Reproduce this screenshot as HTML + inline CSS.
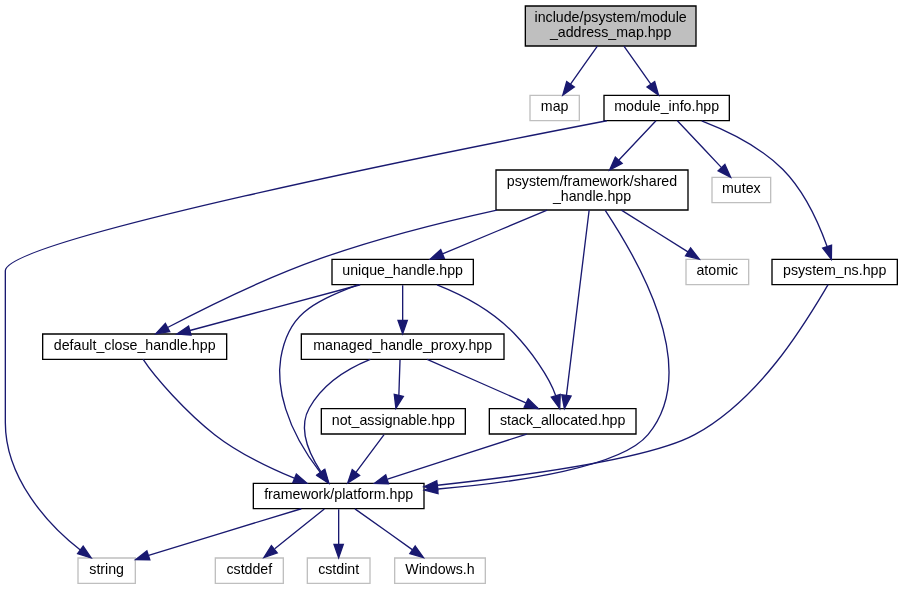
<!DOCTYPE html>
<html><head><meta charset="utf-8"><style>
html,body{margin:0;padding:0;background:#fff;width:902px;height:589px;overflow:hidden}
svg{display:block;will-change:transform}
text{font-family:"Liberation Sans",sans-serif;font-size:10.65px;text-anchor:middle;fill:#000}
</style></head><body>
<svg width="902" height="589" viewBox="0 0 676.5 441.75">
<g transform="translate(4 438)">
<g stroke-width="1">
<polygon fill="#bfbfbf" stroke="#000000" points="390,-403.5 390,-433.5 518,-433.5 518,-403.5"/>
<polygon fill="#ffffff" stroke="#bfbfbf" points="393.5,-347.5 393.5,-366.5 430.5,-366.5 430.5,-347.5"/>
<polygon fill="#ffffff" stroke="#000000" points="449,-347.5 449,-366.5 543,-366.5 543,-347.5"/>
<polygon fill="#ffffff" stroke="#bfbfbf" points="54.5,-0.5 54.5,-19.5 97.5,-19.5 97.5,-0.5"/>
<polygon fill="#ffffff" stroke="#000000" points="575,-224.5 575,-243.5 669,-243.5 669,-224.5"/>
<polygon fill="#ffffff" stroke="#bfbfbf" points="530,-286 530,-305 574,-305 574,-286"/>
<polygon fill="#ffffff" stroke="#000000" points="368,-280.5 368,-310.5 512,-310.5 512,-280.5"/>
<polygon fill="#ffffff" stroke="#000000" points="186,-56.5 186,-75.5 314,-75.5 314,-56.5"/>
<polygon fill="#ffffff" stroke="#bfbfbf" points="292,-0.5 292,-19.5 360,-19.5 360,-0.5"/>
<polygon fill="#ffffff" stroke="#bfbfbf" points="157.5,-0.5 157.5,-19.5 208.5,-19.5 208.5,-0.5"/>
<polygon fill="#ffffff" stroke="#bfbfbf" points="226.5,-0.5 226.5,-19.5 273.5,-19.5 273.5,-0.5"/>
<polygon fill="#ffffff" stroke="#bfbfbf" points="510.5,-224.5 510.5,-243.5 557.5,-243.5 557.5,-224.5"/>
<polygon fill="#ffffff" stroke="#000000" points="28,-168.5 28,-187.5 166,-187.5 166,-168.5"/>
<polygon fill="#ffffff" stroke="#000000" points="363,-112.5 363,-131.5 473,-131.5 473,-112.5"/>
<polygon fill="#ffffff" stroke="#000000" points="245,-224.5 245,-243.5 351,-243.5 351,-224.5"/>
<polygon fill="#ffffff" stroke="#000000" points="222,-168.5 222,-187.5 374,-187.5 374,-168.5"/>
<polygon fill="#ffffff" stroke="#000000" points="237,-112.5 237,-131.5 345,-131.5 345,-112.5"/>
</g>
<g fill="none" stroke="#191970" stroke-width="1">
<path d="M444.05,-403.4 C438.01,-394.84 430.26,-383.87 423.9,-374.86"/>
<path d="M463.95,-403.4 C469.99,-394.84 477.74,-383.87 484.1,-374.86"/>
<path d="M451.11,-347.43 C329.01,-323.84 0,-258.1 0,-235 0,-235 0,-235 0,-121 0,-79.91 31.66,-44.44 56.25,-25.55"/>
<path d="M522.25,-347.35 C541.05,-340.08 565.95,-328.1 583,-311 599.32,-294.63 610.22,-270.02 616.26,-253.27"/>
<path d="M504.02,-347.48 C512.59,-338.37 526.36,-323.74 536.96,-312.48"/>
<path d="M487.98,-347.48 C480.75,-339.79 469.81,-328.17 460.2,-317.96"/>
<path d="M617.06,-224.49 C603.42,-201.9 568.85,-140.17 517,-112 484.54,-94.36 391.28,-81.42 324.13,-74.05"/>
<path d="M221.99,-56.44 C190.95,-46.99 140.91,-31.74 107.46,-21.55"/>
<path d="M262.21,-56.32 C273.78,-48.11 291.38,-35.6 305.16,-25.81"/>
<path d="M239.24,-56.32 C229.23,-48.26 214.11,-36.08 202.07,-26.37"/>
<path d="M250,-56.08 C250,-49.01 250,-38.86 250,-29.99"/>
<path d="M449.92,-280.29 C471.9,-246.89 523.63,-162.4 482,-112 461.98,-87.77 385.28,-76.45 324.61,-71.25"/>
<path d="M462.04,-280.4 C477.11,-270.95 496.88,-258.56 511.95,-249.11"/>
<path d="M368.66,-280.42 C329.04,-271.71 279.17,-259.27 236,-244 194.66,-229.38 149.02,-206.69 121.7,-192.35"/>
<path d="M437.87,-280.47 C434.1,-249.7 425.08,-176.33 420.84,-141.7"/>
<path d="M406.35,-280.4 C382.52,-270.42 350.85,-257.15 327.91,-247.53"/>
<path d="M103.37,-168.42 C112.15,-154.94 135.74,-128.64 157,-112 174.72,-98.13 198.16,-87.05 216.69,-79.35"/>
<path d="M391.06,-112.44 C362.88,-103.32 318.07,-88.81 286.68,-78.65"/>
<path d="M264.2,-224.4 C228.17,-210.52 211.85,-201.39 206.55,-169.32 203.11,-148.52 209.96,-117.35 236.15,-83.7"/>
<path d="M266.15,-224.44 C231.6,-215.16 176.32,-200.31 138.42,-190.13"/>
<path d="M323.79,-224.36 C342.23,-217.09 365.09,-205.11 381.5,-188 394.19,-174.77 408.01,-155.37 412.81,-141.21"/>
<path d="M298,-224.08 C298,-217.01 298,-206.86 298,-197.99"/>
<path d="M273.73,-168.4 C256.58,-161.51 238.25,-149.98 228,-132 219.37,-116.86 227.78,-97.81 236.58,-84.25"/>
<path d="M316.38,-168.44 C336.3,-159.68 367.49,-145.94 390.38,-135.86"/>
<path d="M296.02,-168.08 C295.78,-160.93 295.44,-150.64 295.15,-141.69"/>
<path d="M284.06,-112.08 C278.34,-104.38 269.92,-93.03 262.95,-83.65"/>
</g>
<g fill="#191970" stroke="#191970" stroke-width="1">
<polygon points="426.74,-372.81 418.11,-366.66 421.02,-376.85 426.74,-372.81"/>
<polygon points="486.98,-376.85 489.89,-366.66 481.26,-372.81 486.98,-376.85"/>
<polygon points="58.37,-28.33 64.33,-19.57 54.21,-22.7 58.37,-28.33"/>
<polygon points="619.65,-254.16 619.53,-243.57 613.02,-251.93 619.65,-254.16"/>
<polygon points="539.69,-314.69 543.99,-305.01 534.59,-309.89 539.69,-314.69"/>
<polygon points="462.6,-315.41 453.2,-310.52 457.5,-320.2 462.6,-315.41"/>
<polygon points="324.32,-70.56 314,-72.96 323.57,-77.52 324.32,-70.56"/>
<polygon points="108.37,-18.17 97.78,-18.3 106.15,-24.8 108.37,-18.17"/>
<polygon points="307.44,-28.48 313.57,-19.83 303.39,-22.77 307.44,-28.48"/>
<polygon points="203.94,-23.38 193.96,-19.83 199.55,-28.83 203.94,-23.38"/>
<polygon points="253.5,-29.75 250,-19.75 246.5,-29.75 253.5,-29.75"/>
<polygon points="324.53,-67.73 314.28,-70.41 323.96,-74.71 324.53,-67.73"/>
<polygon points="513.93,-252 520.47,-243.66 510.16,-246.1 513.93,-252"/>
<polygon points="123.31,-189.24 112.83,-187.65 120.03,-195.43 123.31,-189.24"/>
<polygon points="424.26,-140.92 419.3,-131.56 417.34,-141.97 424.26,-140.92"/>
<polygon points="329.24,-244.29 318.66,-243.66 326.53,-250.75 329.24,-244.29"/>
<polygon points="218.24,-82.5 226.22,-75.53 215.64,-76 218.24,-82.5"/>
<polygon points="287.4,-75.21 276.81,-75.52 285.28,-81.88 287.4,-75.21"/>
<polygon points="239.1,-85.63 242.44,-75.57 233.56,-81.35 239.1,-85.63"/>
<polygon points="139.27,-186.73 128.7,-187.52 137.45,-193.49 139.27,-186.73"/>
<polygon points="416.17,-142.18 415.8,-131.59 409.49,-140.1 416.17,-142.18"/>
<polygon points="301.5,-197.75 298,-187.75 294.5,-197.75 301.5,-197.75"/>
<polygon points="239.6,-86.04 242.53,-75.86 233.89,-81.99 239.6,-86.04"/>
<polygon points="392.12,-138.91 399.71,-131.52 389.16,-132.56 392.12,-138.91"/>
<polygon points="298.53,-140.75 292.94,-131.75 291.7,-142.27 298.53,-140.75"/>
<polygon points="265.71,-81.5 256.81,-75.75 260.18,-85.79 265.71,-81.5"/>
</g>
<g>
<text x="454" y="-421.5">include/psystem/module</text>
<text x="454" y="-410.5">_address_map.hpp</text>
<text x="412" y="-354.5">map</text>
<text x="496" y="-354.5">module_info.hpp</text>
<text x="76" y="-7.5">string</text>
<text x="622" y="-231.5">psystem_ns.hpp</text>
<text x="552" y="-293">mutex</text>
<text x="440" y="-298.5">psystem/framework/shared</text>
<text x="440" y="-287.5">_handle.hpp</text>
<text x="250" y="-63.5">framework/platform.hpp</text>
<text x="326" y="-7.5">Windows.h</text>
<text x="183" y="-7.5">cstddef</text>
<text x="250" y="-7.5">cstdint</text>
<text x="534" y="-231.5">atomic</text>
<text x="97" y="-175.5">default_close_handle.hpp</text>
<text x="418" y="-119.5">stack_allocated.hpp</text>
<text x="298" y="-231.5">unique_handle.hpp</text>
<text x="298" y="-175.5">managed_handle_proxy.hpp</text>
<text x="291" y="-119.5">not_assignable.hpp</text>
</g>
</g>
</svg>
</body></html>
